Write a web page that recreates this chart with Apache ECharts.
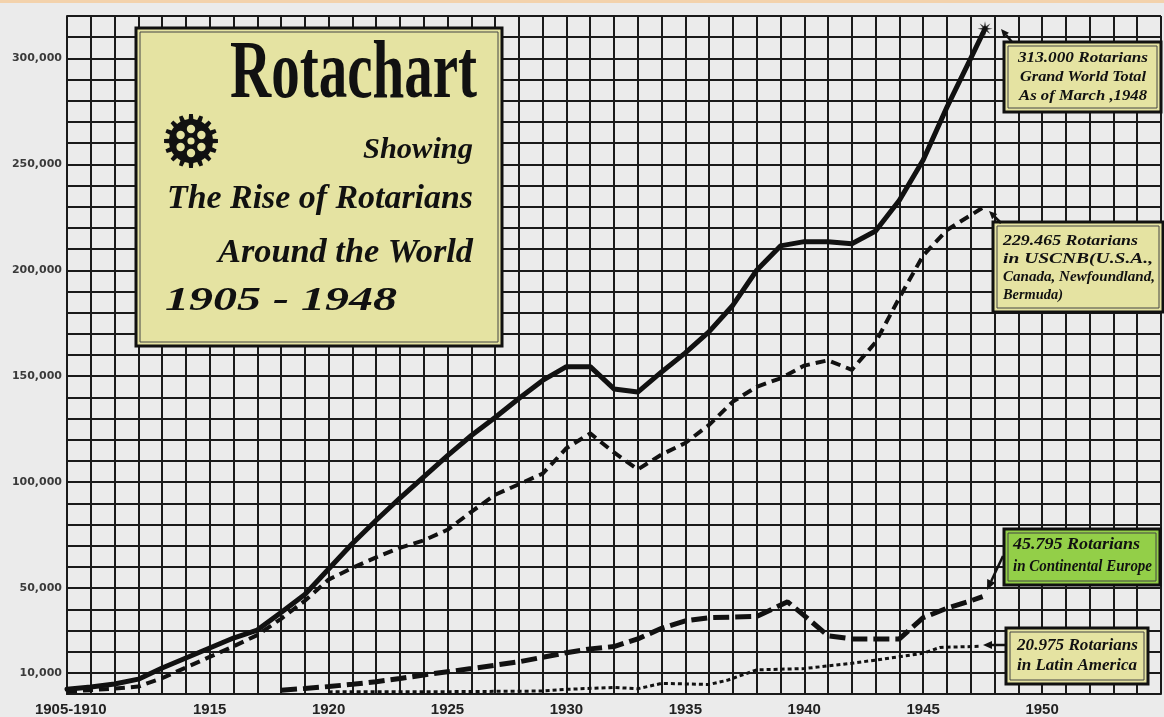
<!DOCTYPE html>
<html><head><meta charset="utf-8">
<script src="https://cdn.jsdelivr.net/npm/echarts@6/dist/echarts.min.js"></script>
<style>html,body{margin:0;padding:0;background:#ebebeb;overflow:hidden}#c{width:1164px;height:717px}</style>
</head><body><div id="c"></div>
<script>
// ---------- data ----------
const worldYears   = [1909,1910,1911,1912,1913,1914,1915,1916,1917,1918,1919,1920,1921,1922,1923,1924,1925,1926,1927,1928,1929,1930,1931,1932,1933,1934,1935,1936,1937,1938,1939,1940,1941,1942,1943,1944,1945,1946,1947,1947.6];
const worldMembers = [2200,3300,4700,7000,12300,17000,21700,26400,30200,38500,47000,59000,71000,82000,92500,102500,112500,122000,130500,139500,148000,154500,154500,144000,142500,152000,161000,171000,183500,200000,211500,213500,213500,212500,218500,233000,252000,277000,300000,314000];

const usYears   = [1909,1910,1911,1912,1913,1914,1915,1916,1917,1918,1919,1920,1921,1922,1923,1924,1925,1926,1927,1928,1929,1930,1931,1932,1933,1934,1935,1936,1937,1938,1939,1940,1941,1942,1943,1944,1945,1946,1947,1947.5];
const usMembers = [1200,1800,2600,3500,7500,12500,17500,22500,27800,35500,44000,54000,59500,64500,69000,72500,77500,86000,94000,99000,104000,116000,123000,114000,106000,113000,118500,127000,138000,145000,149000,155000,157500,153000,166000,187000,207000,219000,226000,229500];

const europeYears   = [1918,1919,1920,1921,1922,1923,1924,1925,1926,1927,1928,1929,1930,1931,1932,1933,1934,1935,1936,1937,1938,1939.3,1940,1941,1942,1943,1944,1945,1946,1947,1947.5];
const europeMembers = [1800,2600,3500,4600,5800,7300,9000,10500,12000,13600,15200,17300,19500,21300,22400,26000,31000,34500,36000,36300,36600,43500,37000,27500,26000,26000,26000,36000,40500,44000,46000];

const latinYears   = [1920,1925,1929,1930,1932,1933,1934,1936,1936.8,1938,1940,1942,1943,1945,1945.7,1947.4];
const latinMembers = [1000,1100,1400,2200,3100,2500,5000,4500,6600,11400,12000,14500,16000,19200,22000,22500];

const starPoint = [1947.6, 314000];

const xTickLabels = {1910:'1905-1910',1915:'1915',1920:'1920',1925:'1925',1930:'1930',1935:'1935',1940:'1940',1945:'1945',1950:'1950'};
const yTickLabels = [10000,50000,100000,150000,200000,250000,300000];

// ---------- helpers ----------
const zip = (xs, ys) => xs.map((x, i) => [x, ys[i]]);
const mctx = document.createElement('canvas').getContext('2d');
function measure(t, font){ mctx.font = font; return mctx.measureText(t).width; }
const SCRIPT = '"Liberation Serif", "DejaVu Serif", serif';
function ftext(str, x, y, size, width, align, weight){
  weight = weight || 'bold italic';
  const font = weight + ' ' + size + 'px ' + SCRIPT;
  const sx = width ? width / measure(str, font) : 1;
  return {type:'text', x:x, y:y, scaleX:sx, z:110,
    style:{text:str, font:font, fill:'#111', align:align, textAlign:align, verticalAlign:'middle', textVerticalAlign:'middle'}};
}
function box(x, y, w, h, fill){
  return [
    {type:'rect', z:100, shape:{x:x, y:y, width:w, height:h}, style:{fill:fill, stroke:'#111', lineWidth:3}},
    {type:'rect', z:101, shape:{x:x+4, y:y+4, width:w-8, height:h-8}, style:{fill:'none', stroke:'#444', lineWidth:1}}
  ];
}
function arrow(x1, y1, x2, y2, head){
  head = head || 8;
  const a = Math.atan2(y2-y1, x2-x1);
  const bx = x2 - head*Math.cos(a), by = y2 - head*Math.sin(a);
  return [
    {type:'line', z:105, shape:{x1:x1, y1:y1, x2:bx, y2:by}, style:{stroke:'#111', lineWidth:2.5}},
    {type:'polygon', z:105, shape:{points:[[x2,y2],[bx+head*0.45*Math.sin(a), by-head*0.45*Math.cos(a)],[bx-head*0.45*Math.sin(a), by+head*0.45*Math.cos(a)]]}, style:{fill:'#111'}}
  ];
}
function gear(cx, cy, rOut, rRoot, n){
  const pts = [], st = 2*Math.PI/n;
  for (let i = 0; i < n; i++){
    const a = i*st - Math.PI/2;
    [[-0.5,rRoot],[-0.27,rRoot],[-0.18,rOut],[0.18,rOut],[0.27,rRoot]].forEach(function(p){
      pts.push([cx + p[1]*Math.cos(a + p[0]*st), cy + p[1]*Math.sin(a + p[0]*st)]);
    });
  }
  const els = [{type:'polygon', z:105, shape:{points:pts}, style:{fill:'#111'}}];
  for (let i = 0; i < 6; i++){
    const a = i*Math.PI/3 - Math.PI/2;
    els.push({type:'circle', z:106, shape:{cx:cx+12*Math.cos(a), cy:cy+12*Math.sin(a), r:4.2}, style:{fill:'#e5e3a2'}});
  }
  els.push({type:'circle', z:106, shape:{cx:cx, cy:cy, r:3.6}, style:{fill:'#e5e3a2'}});
  return els;
}
function starPath(){
  let d = '';
  for (let i = 0; i < 16; i++){
    const r = i % 2 ? 3.5 : 10, a = i*Math.PI/8;
    d += (i ? 'L' : 'M') + (r*Math.cos(a)).toFixed(2) + ',' + (r*Math.sin(a)).toFixed(2);
  }
  return 'path://' + d + 'Z';
}

const KHAKI = '#e5e3a2';
const graphics = [].concat(
  [{type:'rect', z:100, shape:{x:0, y:0, width:1164, height:3}, style:{fill:'#f3d2ac'}}],
  box(136, 28, 366, 318, KHAKI),
  gear(191, 141, 27, 22, 16),
  [
    ftext('Rotachart', 477, 76, 82, 247, 'right', 'bold'),
    ftext('Showing', 473, 150, 30, 110, 'right'),
    ftext('The Rise of Rotarians', 473, 199, 34, 306, 'right'),
    ftext('Around the World', 473, 253, 34, 255, 'right'),
    ftext('1905 - 1948', 165, 301, 34, 232, 'left')
  ],
  box(1004, 42, 157, 70, KHAKI),
  [
    ftext('313.000 Rotarians', 1083, 58, 15, 130, 'center'),
    ftext('Grand World Total', 1083, 77, 15, 126, 'center'),
    ftext('As of March ,1948', 1083, 96, 15, 128, 'center')
  ],
  arrow(1012, 42, 1001, 29),
  box(993, 222, 170, 90, KHAKI),
  [
    ftext('229.465 Rotarians', 1003, 241, 14, 135, 'left'),
    ftext('in USCNB(U.S.A.,', 1003, 259, 14, 150, 'left'),
    ftext('Canada, Newfoundland,', 1003, 277, 14, 152, 'left'),
    ftext('Bermuda)', 1003, 295, 14, 60, 'left')
  ],
  arrow(1001, 223, 989, 211),
  box(1004, 529, 156, 56, '#93cf48'),
  [
    ftext('45.795 Rotarians', 1013, 545, 16, 127, 'left'),
    ftext('in Continental Europe', 1013, 567, 16, 139, 'left')
  ],
  arrow(1003, 556, 987, 590, 10),
  box(1006, 628, 142, 56, KHAKI),
  [
    ftext('20.975 Rotarians', 1017, 646, 16, 121, 'left'),
    ftext('in Latin America', 1017, 666, 16, 120, 'left')
  ],
  arrow(1006, 645, 983, 645, 9)
);

const chart = echarts.init(document.getElementById('c'), null, {renderer:'canvas'});
chart.setOption({
  backgroundColor:'#ebebeb',
  animation:false,
  grid:{left:67, top:16, width:1102.6, height:678, containLabel:false},
  xAxis:{
    type:'value', min:1909, max:1955, interval:1,
    axisLine:{show:true, lineStyle:{color:'#1a1a1a', width:2}},
    axisTick:{show:false},
    splitLine:{show:true, lineStyle:{color:'#1a1a1a', width:2}},
    axisLabel:{
      margin:8, color:'#222', fontSize:15, fontWeight:'bold',
      fontFamily:'"Liberation Sans Narrow", "Liberation Sans", sans-serif',
      formatter:function(v){
        const t = xTickLabels[Math.round(v)];
        if (!t || Math.abs(v - Math.round(v)) > 1e-6) return '';
        return Math.round(v) === 1910 ? '{s|' + t + '}' : t;
      },
      rich:{s:{padding:[0,40,0,0], fontSize:15, fontWeight:'bold', color:'#222',
        fontFamily:'"Liberation Sans Narrow", "Liberation Sans", sans-serif'}}
    }
  },
  yAxis:{
    type:'value', min:0, max:320000, interval:10000,
    axisLine:{show:true, lineStyle:{color:'#1a1a1a', width:2}},
    axisTick:{show:false},
    splitLine:{show:true, lineStyle:{color:'#1a1a1a', width:2}},
    axisLabel:{
      margin:5, color:'#3a3a3a', fontSize:11, fontWeight:'bold', fontFamily:'"DejaVu Sans", sans-serif',
      formatter:function(v){ return yTickLabels.indexOf(v) >= 0 ? v.toLocaleString('en-US') : ''; }
    }
  },
  series:[
    {type:'line', name:'Grand World Total', data:zip(worldYears, worldMembers), showSymbol:false, z:5,
      lineStyle:{color:'#111', width:5, join:'round', cap:'round'}},
    {type:'line', name:'USCNB', data:zip(usYears, usMembers), showSymbol:false, z:4,
      lineStyle:{color:'#111', width:4, type:[10,6]}},
    {type:'line', name:'Continental Europe', data:zip(europeYears, europeMembers), showSymbol:false, z:4,
      lineStyle:{color:'#111', width:5, type:[16,6]}},
    {type:'line', name:'Latin America', data:zip(latinYears, latinMembers), showSymbol:false, z:4,
      lineStyle:{color:'#111', width:3, type:[4,3]}},
    {type:'scatter', name:'star', data:[starPoint], symbol:starPath(), symbolSize:15, z:6,
      itemStyle:{color:'#111'}}
  ],
  graphic:{elements:graphics}
});
</script>
</body></html>
